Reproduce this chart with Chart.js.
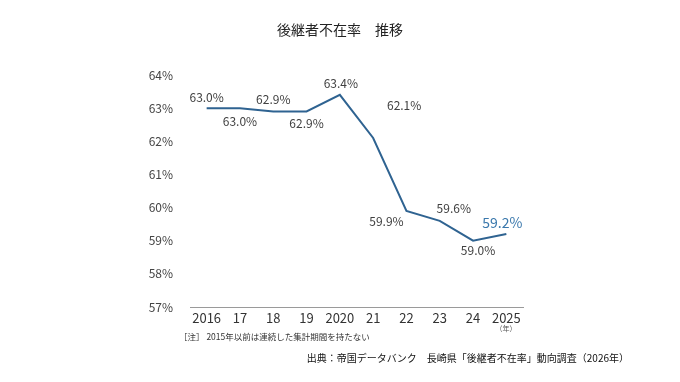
<!DOCTYPE html>
<html>
<head>
<meta charset="utf-8">
<script src="https://cdn.jsdelivr.net/npm/chart.js@4/dist/chart.umd.min.js"></script>
<style>
  body { margin: 0; background: #fff; }
  canvas { display: block; }
</style>
</head>
<body>
<canvas id="myChart" width="680" height="382"></canvas>
<script>
// data
const years = ['2016', '17', '18', '19', '2020', '21', '22', '23', '24', '2025'];
const rates = [63.0, 63.0, 62.9, 62.9, 63.4, 62.1, 59.9, 59.6, 59.0, 59.2];
const yTicks = [57, 58, 59, 60, 61, 62, 63, 64];

// label placement, offset from each point
const labelDx = [0, 0, 0, 0, 1, 31, -20, 14, 5, -4];
const labelDy = [-11, 13, -12, 12, -11, -33, 11, -12, 10, -11];

const jp = '"Noto Sans CJK JP", "Noto Sans", sans-serif';

const labelPlugin = {
  id: 'labels',
  afterDatasetsDraw(chart) {
    const ctx = chart.ctx;
    const pts = chart.getDatasetMeta(0).data;
    ctx.save();
    ctx.textAlign = 'center';
    ctx.textBaseline = 'middle';
    pts.forEach(function (p, i) {
      const last = i == pts.length - 1;
      ctx.font = (last ? '14px ' : '12px ') + jp;
      ctx.fillStyle = last ? '#3a78ac' : '#404040';
      ctx.fillText(rates[i].toFixed(1) + '%', p.x + labelDx[i], p.y + labelDy[i]);
    });
    ctx.restore();
  },
  afterDraw(chart) {
    const ctx = chart.ctx;
    ctx.save();
    ctx.fillStyle = '#222';
    ctx.textBaseline = 'middle';
    ctx.textAlign = 'center';
    ctx.font = '14px ' + jp;
    ctx.fillText('後継者不在率\u3000推移', 340, 30);

    ctx.fillStyle = '#555';
    ctx.font = '7px ' + jp;
    ctx.fillText('（年）', 506, 328);

    ctx.textAlign = 'left';
    ctx.fillStyle = '#333';
    ctx.font = '8.5px ' + jp;
    ctx.fillText('［注］ 2015年以前は連続した集計期間を持たない', 179, 337);

    ctx.textAlign = 'right';
    ctx.fillStyle = '#111';
    ctx.font = '10px ' + jp;
    ctx.fillText('出典：帝国データバンク\u3000長崎県「後継者不在率」動向調査（2026年）', 629, 358);
    ctx.restore();
  }
};

const ctx1 = document.getElementById('myChart');
new Chart(ctx1, {
  type: 'line',
  data: {
    labels: years,
    datasets: [{
      data: rates,
      borderColor: '#2f6391',
      borderWidth: 2,
      pointRadius: 0,
      tension: 0,
      fill: false
    }]
  },
  options: {
    responsive: false,
    animation: false,
    layout: { padding: { top: 75, right: 157, bottom: 0, left: 0 } },
    plugins: {
      legend: { display: false },
      tooltip: { enabled: false }
    },
    scales: {
      x: {
        offset: true,
        grid: { display: false },
        border: { display: true, color: '#9a9a9a', width: 1 },
        ticks: { color: '#333', font: { size: 13, family: jp }, padding: -5, maxRotation: 0 },
        afterFit: function (s) { s.height = 75; }
      },
      y: {
        min: 57,
        max: 64,
        grid: { display: false },
        border: { display: false },
        afterBuildTicks: function (s) { s.ticks = yTicks.map(function (v) { return { value: v }; }); },
        ticks: {
          color: '#444',
          font: { size: 12, family: jp },
          padding: 9,
          callback: function (v) { return v + '%'; }
        },
        afterFit: function (s) { s.width = 190; }
      }
    }
  },
  plugins: [labelPlugin]
});
</script>
</body>
</html>
